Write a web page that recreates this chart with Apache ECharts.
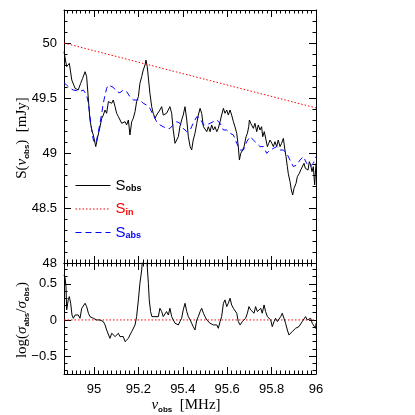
<!DOCTYPE html>
<html>
<head>
<meta charset="utf-8">
<script src="https://cdn.jsdelivr.net/npm/echarts@6/dist/echarts.min.js"></script>
<style>html,body{margin:0;padding:0;background:#fff}#c{width:415px;height:415px}</style>
</head>
<body>
<div id="c"></div>
<script>
// ---- data ----
const freqObs = [94.865,94.877,94.889,94.900,94.915,94.929,94.940,94.949,94.960,94.967,94.975,94.982,94.990,94.997,95.008,95.017,95.024,95.035,95.042,95.050,95.057,95.065,95.072,95.080,95.087,95.095,95.102,95.110,95.117,95.125,95.132,95.140,95.147,95.155,95.162,95.170,95.177,95.185,95.192,95.200,95.207,95.215,95.222,95.230,95.234,95.240,95.246,95.252,95.260,95.267,95.275,95.282,95.290,95.297,95.305,95.312,95.320,95.327,95.335,95.342,95.350,95.357,95.365,95.373,95.380,95.387,95.395,95.402,95.410,95.418,95.425,95.433,95.440,95.447,95.455,95.463,95.470,95.478,95.485,95.493,95.500,95.508,95.515,95.523,95.530,95.538,95.545,95.553,95.560,95.568,95.575,95.583,95.590,95.598,95.605,95.613,95.620,95.628,95.635,95.643,95.650,95.655,95.661,95.670,95.676,95.685,95.691,95.697,95.700,95.706,95.712,95.718,95.725,95.733,95.740,95.748,95.755,95.760,95.767,95.775,95.781,95.787,95.793,95.801,95.808,95.815,95.823,95.830,95.838,95.845,95.853,95.860,95.865,95.871,95.875,95.883,95.889,95.895,95.901,95.910,95.916,95.925,95.931,95.940,95.946,95.952,95.958,95.964,95.970,95.976,95.982,95.988,95.994,96.000];
const sObs = [49.921,49.785,49.815,49.664,49.588,49.573,49.633,49.679,49.739,49.694,49.482,49.300,49.209,49.164,49.058,49.148,49.209,49.315,49.345,49.391,49.361,49.467,49.482,49.452,49.482,49.421,49.361,49.330,49.345,49.270,49.255,49.285,49.255,49.300,49.164,49.285,49.315,49.376,49.467,49.512,49.633,49.694,49.755,49.800,49.845,49.785,49.664,49.542,49.421,49.361,49.315,49.345,49.361,49.391,49.421,49.345,49.330,49.361,49.345,49.421,49.361,49.209,49.088,49.073,49.148,49.239,49.300,49.345,49.421,49.300,49.148,49.058,49.027,49.118,49.179,49.270,49.345,49.406,49.361,49.239,49.255,49.194,49.239,49.194,49.255,49.209,49.239,49.194,49.224,49.285,49.345,49.406,49.361,49.391,49.345,49.391,49.345,49.285,49.239,49.179,49.058,48.936,48.997,49.027,49.058,49.148,49.179,49.239,49.300,49.270,49.255,49.224,49.270,49.194,49.255,49.209,49.239,49.148,49.194,49.118,49.058,49.088,49.118,49.088,49.058,49.103,49.058,49.118,49.058,49.088,49.133,49.027,48.967,48.876,48.815,48.739,48.664,48.618,48.679,48.724,48.785,48.815,48.845,48.845,48.906,48.861,48.876,48.845,48.921,48.891,48.830,48.876,48.709,48.906];

const freqAbs = [94.865,94.877,94.892,94.907,94.922,94.937,94.952,94.960,94.967,94.975,94.982,94.990,94.997,95.005,95.012,95.020,95.027,95.035,95.042,95.050,95.057,95.065,95.072,95.087,95.102,95.117,95.132,95.147,95.162,95.177,95.192,95.207,95.222,95.237,95.252,95.267,95.282,95.297,95.312,95.327,95.342,95.357,95.373,95.387,95.402,95.418,95.433,95.447,95.463,95.478,95.493,95.508,95.523,95.538,95.553,95.568,95.583,95.598,95.613,95.628,95.643,95.658,95.665,95.673,95.688,95.703,95.718,95.733,95.748,95.763,95.778,95.793,95.808,95.823,95.838,95.853,95.868,95.883,95.898,95.913,95.928,95.943,95.958,95.973,95.988,96.000];
const sAbs = [49.639,49.618,49.588,49.573,49.567,49.558,49.573,49.573,49.527,49.452,49.330,49.209,49.118,49.088,49.118,49.194,49.270,49.361,49.452,49.527,49.588,49.618,49.618,49.597,49.558,49.548,49.573,49.558,49.512,49.482,49.482,49.482,49.452,49.436,49.406,49.345,49.285,49.255,49.239,49.224,49.224,49.255,49.285,49.270,49.224,49.194,49.209,49.270,49.330,49.315,49.255,49.255,49.270,49.285,49.300,49.270,49.209,49.209,49.179,49.164,49.088,49.027,49.012,49.027,49.103,49.148,49.118,49.088,49.058,49.058,48.997,49.027,49.042,49.058,49.027,49.027,48.997,48.936,48.876,48.891,48.936,48.967,48.906,48.876,48.906,48.967];

const freqIn = [94.865, 96.0];
const sIn = [50.0, 49.41];

const freqRatio = [94.865,94.870,94.874,94.877,94.884,94.889,94.895,94.901,94.907,94.915,94.922,94.929,94.937,94.945,94.952,94.960,94.967,94.975,94.982,94.990,94.997,95.005,95.012,95.020,95.027,95.035,95.042,95.050,95.057,95.065,95.072,95.080,95.087,95.095,95.102,95.110,95.117,95.125,95.132,95.140,95.147,95.155,95.162,95.170,95.177,95.185,95.192,95.200,95.207,95.215,95.219,95.225,95.231,95.237,95.245,95.249,95.255,95.261,95.267,95.275,95.282,95.290,95.297,95.305,95.312,95.320,95.327,95.335,95.342,95.350,95.357,95.365,95.373,95.380,95.387,95.395,95.402,95.410,95.418,95.425,95.433,95.440,95.447,95.455,95.463,95.470,95.478,95.485,95.493,95.500,95.508,95.515,95.523,95.530,95.538,95.545,95.553,95.560,95.568,95.575,95.583,95.590,95.598,95.605,95.613,95.620,95.628,95.635,95.643,95.650,95.658,95.661,95.668,95.676,95.683,95.691,95.698,95.706,95.713,95.721,95.728,95.736,95.743,95.751,95.758,95.766,95.773,95.781,95.788,95.796,95.803,95.811,95.818,95.826,95.833,95.841,95.848,95.856,95.863,95.871,95.878,95.886,95.893,95.901,95.908,95.916,95.923,95.931,95.938,95.946,95.953,95.961,95.968,95.976,95.983,95.991,95.998,96.000];
const logRatio = [0.625,0.579,0.463,0.139,0.278,0.324,0.231,0.069,0.023,0.069,0.046,0.069,0.023,0.162,0.139,0.231,0.185,0.093,0.046,0.046,0.023,0.046,0.000,0.023,0.000,0.023,-0.023,-0.069,-0.139,-0.162,-0.255,-0.185,-0.162,-0.231,-0.208,-0.185,-0.231,-0.255,-0.231,-0.301,-0.278,-0.255,-0.208,-0.162,-0.139,-0.069,0.046,0.278,0.509,0.694,0.880,0.950,1.000,0.880,0.509,0.278,0.116,0.046,0.023,0.046,0.023,0.046,0.162,0.116,0.046,0.069,0.116,0.069,0.162,0.046,0.023,-0.046,-0.069,-0.069,-0.023,0.023,0.139,0.231,0.116,0.046,0.000,-0.046,-0.093,-0.139,0.000,0.046,0.116,0.162,0.093,0.046,0.000,-0.023,-0.046,-0.023,-0.069,-0.093,-0.069,-0.116,-0.023,0.046,0.231,0.278,0.185,0.231,0.301,0.208,0.162,0.139,0.093,-0.023,-0.069,-0.046,-0.023,0.000,0.023,0.093,0.185,0.139,0.162,0.093,0.185,0.116,0.139,0.162,0.093,0.208,0.116,0.046,0.023,0.000,-0.093,-0.023,0.023,-0.023,0.000,0.046,0.093,0.069,-0.046,-0.139,-0.208,-0.185,-0.162,-0.139,-0.116,-0.139,-0.093,-0.069,-0.023,0.000,0.046,0.000,-0.023,0.023,-0.046,-0.069,-0.116,-0.046];

const freqZero = [94.865, 96.0];
const zeroLine = [0, 0];

const legendNames = ['obs', 'in', 'abs'];
const legendColors = ['#000000', '#ff0000', '#0000ff'];

// ---- axes / ticks ----
const xMin = 94.865, xMax = 96.0;
const xMajor = [95, 95.2, 95.4, 95.6, 95.8, 96];
const yTopMin = 48.0, yTopMax = 50.3;
const yTopMajor = [48, 48.5, 49, 49.5, 50];
const yBotMin = -0.75, yBotMax = 0.79;
const yBotMajor = [-0.5, 0, 0.5];

function steps(a, b, s) { const out = []; for (let v = a; v <= b + 1e-9; v += s) out.push(Math.round(v * 1000) / 1000); return out; }
const xMinor = steps(94.88, 96.0, 0.02);
const yTopMinor = steps(48.0, 50.3, 0.1);
const yBotMinor = steps(-0.7, 0.7, 0.1);

const zip = (a, b) => a.map((v, i) => [v, b[i]]);
const tickFont = 'Liberation Sans, Arial, sans-serif';

function axis(grid, pos, min, max, ticks, len, opts) {
  opts = opts || {};
  return {
    type: 'value', gridIndex: grid, position: pos, min: min, max: max,
    axisLine: { show: !!opts.line, onZero: false, lineStyle: { color: '#000', width: 1 } },
    axisTick: { show: true, inside: true, length: len, customValues: ticks, lineStyle: { color: '#000', width: 1 } },
    axisLabel: opts.labels ? {
      show: true, customValues: ticks, color: '#000', fontSize: 13, fontFamily: tickFont, margin: opts.margin || 7,
      formatter: v => String(v).replace('-', '\u2212')
    } : { show: false },
    splitLine: { show: false }
  };
}

const xAxes = [
  axis(0, 'bottom', xMin, xMax, xMajor, 7, { line: true }),
  axis(0, 'bottom', xMin, xMax, xMinor, 3.5),
  axis(0, 'top', xMin, xMax, xMajor, 7, { line: true }),
  axis(0, 'top', xMin, xMax, xMinor, 3.5),
  axis(1, 'bottom', xMin, xMax, xMajor, 7, { line: true, labels: true, margin: 9 }),
  axis(1, 'bottom', xMin, xMax, xMinor, 3.5),
  axis(1, 'top', xMin, xMax, xMajor, 7, { line: true }),
  axis(1, 'top', xMin, xMax, xMinor, 3.5)
];
const yAxes = [
  axis(0, 'left', yTopMin, yTopMax, yTopMajor, 7, { line: true, labels: true, margin: 7 }),
  axis(0, 'left', yTopMin, yTopMax, yTopMinor, 3.5),
  axis(0, 'right', yTopMin, yTopMax, yTopMajor, 7, { line: true }),
  axis(0, 'right', yTopMin, yTopMax, yTopMinor, 3.5),
  axis(1, 'left', yBotMin, yBotMax, yBotMajor, 7, { line: true, labels: true, margin: 7 }),
  axis(1, 'left', yBotMin, yBotMax, yBotMinor, 3.5),
  axis(1, 'right', yBotMin, yBotMax, yBotMajor, 7, { line: true }),
  axis(1, 'right', yBotMin, yBotMax, yBotMinor, 3.5)
];

const serif = 'Liberation Serif, Times New Roman, serif';
const titleRich = {
  a: { fontFamily: serif, fontSize: 15, color: '#000', lineHeight: 18, verticalAlign: 'middle' },
  i: { fontFamily: serif, fontSize: 15, fontStyle: 'italic', color: '#000', lineHeight: 18, verticalAlign: 'middle' },
  s: { fontFamily: tickFont, fontSize: 8, fontWeight: 'bold', color: '#000', lineHeight: 9, verticalAlign: 'bottom' }
};

const chart = echarts.init(document.getElementById('c'), null, { renderer: 'canvas' });
chart.setOption({
  animation: false,
  backgroundColor: '#fff',
  grid: [
    { left: 64, right: 99, top: 10, height: 253 },
    { left: 64, right: 99, top: 263, height: 111 }
  ],
  xAxis: xAxes,
  yAxis: yAxes,
  legend: {
    orient: 'vertical', left: 75, top: 178, padding: 0, itemWidth: 35, itemHeight: 14, itemGap: 8,
    itemStyle: { opacity: 0, borderWidth: 0 },
    lineStyle: { width: 1 },
    selectedMode: false,
    data: legendNames.map((n, k) => ({ name: n, textStyle: { color: legendColors[k] } })),
    formatter: n => '{m|S}{s|' + n + '}',
    textStyle: {
      rich: {
        m: { fontFamily: tickFont, fontSize: 15, lineHeight: 16, verticalAlign: 'middle' },
        s: { fontFamily: tickFont, fontSize: 9, fontWeight: 'bold', lineHeight: 8, verticalAlign: 'bottom' }
      }
    }
  },
  graphic: [
    { type: 'text', x: 22, y: 138, rotation: Math.PI / 2, style: { text: '{a|S(}{i|\u03bd}{s|obs}{a|)  [mJy]}', rich: titleRich, align: 'center', verticalAlign: 'middle' } },
    { type: 'text', x: 22, y: 320, rotation: Math.PI / 2, style: { text: '{a|log(}{i|\u03c3}{s|abs}{a|/}{i|\u03c3}{s|obs}{a|)}', rich: titleRich, align: 'center', verticalAlign: 'middle' } },
    { type: 'text', x: 186, y: 405, style: { text: '{i|\u03bd}{s|obs}{a|  [MHz]}', rich: titleRich, align: 'center', verticalAlign: 'middle' } }
  ],
  series: [
    { name: 'obs', type: 'line', xAxisIndex: 0, yAxisIndex: 0, data: zip(freqObs, sObs), showSymbol: false, symbol: 'none',
      lineStyle: { color: '#000', width: 1 }, itemStyle: { color: '#000' } },
    { name: 'in', type: 'line', xAxisIndex: 0, yAxisIndex: 0, data: zip(freqIn, sIn), showSymbol: false, symbol: 'none',
      lineStyle: { color: '#ff0000', width: 1, type: [1.5, 2] }, itemStyle: { color: '#ff0000' } },
    { name: 'abs', type: 'line', xAxisIndex: 0, yAxisIndex: 0, data: zip(freqAbs, sAbs), showSymbol: false, symbol: 'none',
      lineStyle: { color: '#0000ff', width: 1, type: [6, 4] }, itemStyle: { color: '#0000ff' } },
    { name: 'ratio', type: 'line', xAxisIndex: 4, yAxisIndex: 4, data: zip(freqRatio, logRatio), showSymbol: false, symbol: 'none',
      lineStyle: { color: '#000', width: 1 }, clip: true },
    { name: 'zero', type: 'line', xAxisIndex: 4, yAxisIndex: 4, data: zip(freqZero, zeroLine), showSymbol: false, symbol: 'none',
      lineStyle: { color: '#ff0000', width: 1, type: [1.5, 2] }, z: 1 }
  ]
});
</script>
</body>
</html>
